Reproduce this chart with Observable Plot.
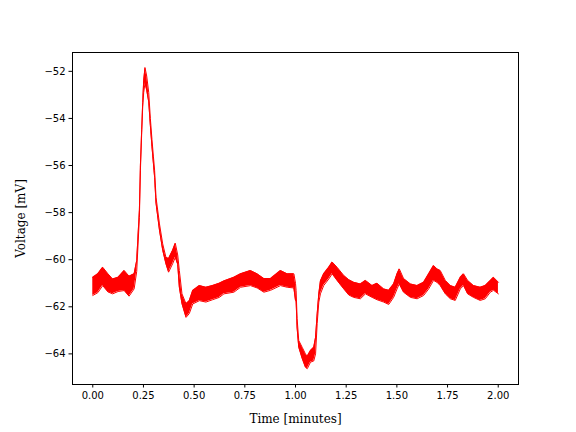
<!DOCTYPE html>
<html><head><meta charset="utf-8">
<script src="https://cdn.jsdelivr.net/npm/d3@7"></script>
<script src="https://cdn.jsdelivr.net/npm/@observablehq/plot@0.6"></script>
<style>
body{margin:0;background:#fff}
g[aria-label="x-axis label"] text, g[aria-label="y-axis label"] text {font-family:"DejaVu Serif" !important; font-size:12px !important}
</style></head><body><div id="chart"></div><script>
// Time in minutes, with the upper and lower envelope of the noisy voltage trace (mV)
const timeMin = [0.000,0.025,0.049,0.075,0.098,0.125,0.155,0.179,0.204,0.2167,0.230,0.235,0.2414,0.2463,0.2512,0.2576,0.266,0.276,0.284,0.292,0.299,0.305,0.312,0.329,0.345,0.361,0.374,0.394,0.407,0.419,0.427,0.440,0.460,0.476,0.493,0.526,0.558,0.591,0.624,0.647,0.696,0.729,0.778,0.811,0.844,0.877,0.926,0.959,0.992,1.000,1.003,1.008,1.016,1.033,1.049,1.058,1.074,1.090,1.099,1.107,1.115,1.123,1.139,1.164,1.181,1.205,1.238,1.263,1.287,1.320,1.345,1.378,1.402,1.435,1.460,1.484,1.501,1.512,1.533,1.567,1.600,1.632,1.657,1.681,1.698,1.714,1.739,1.764,1.788,1.813,1.829,1.849,1.878,1.911,1.936,1.961,1.977,2.001];
const vHigh = [-60.75,-60.6,-60.32,-60.6,-60.82,-60.75,-60.46,-60.7,-60.6,-60.04,-57.9,-56.0,-54.46,-53.33,-52.4,-51.84,-52.2,-52.9,-54.0,-54.9,-55.6,-56.2,-57.35,-58.48,-59.33,-59.9,-59.95,-59.6,-59.3,-59.8,-60.46,-61.45,-61.87,-61.74,-61.31,-61.1,-61.17,-61.1,-61.0,-60.9,-60.75,-60.6,-60.46,-60.6,-60.8,-60.8,-60.46,-60.6,-60.6,-61.0,-61.3,-62.5,-63.43,-63.72,-64.0,-64.1,-63.86,-63.72,-63.3,-62.3,-61.45,-60.9,-60.6,-60.32,-60.1,-60.32,-60.67,-60.85,-60.96,-61.03,-60.88,-61.1,-61.0,-61.24,-61.3,-61.03,-60.6,-60.39,-60.8,-61.03,-61.1,-60.96,-60.6,-60.25,-60.39,-60.46,-60.88,-61.1,-61.17,-60.75,-60.6,-60.88,-61.1,-61.17,-61.1,-60.88,-60.75,-60.96];
const vLow = [-61.52,-61.4,-61.1,-61.37,-61.45,-61.35,-61.31,-61.55,-61.24,-60.5,-58.2,-56.2,-54.6,-53.5,-52.9,-52.5,-52.8,-53.3,-54.3,-55.2,-55.9,-56.5,-57.6,-58.75,-59.6,-60.18,-60.53,-60.17,-59.9,-60.2,-61.17,-61.87,-62.45,-62.29,-61.88,-61.74,-61.8,-61.7,-61.6,-61.45,-61.38,-61.17,-61.1,-61.2,-61.38,-61.3,-61.1,-61.17,-61.2,-61.74,-61.74,-62.9,-63.72,-64.2,-64.57,-64.63,-64.35,-64.3,-64.0,-62.7,-61.8,-61.45,-61.1,-60.82,-60.6,-60.88,-61.24,-61.5,-61.6,-61.66,-61.45,-61.6,-61.7,-61.8,-61.9,-61.6,-61.24,-61.03,-61.38,-61.6,-61.66,-61.52,-61.24,-60.88,-60.96,-61.1,-61.45,-61.66,-61.73,-61.24,-61.1,-61.45,-61.6,-61.73,-61.66,-61.38,-61.3,-61.45];
const xTicks = [0, 0.25, 0.5, 0.75, 1.0, 1.25, 1.5, 1.75, 2.0];
const yTicks = [-64, -62, -60, -58, -56, -54, -52];

const chart = Plot.plot({
  width: 576, height: 432,
  marginLeft: 72, marginRight: 58, marginTop: 52, marginBottom: 48,
  style: {fontFamily: "DejaVu Sans", fontSize: "10px", background: "white", color: "black"},
  x: {domain: [-0.1, 2.1], ticks: xTicks, tickFormat: d3.format(".2f"), tickSize: 3.5, tickPadding: 3.5,
      label: "Time [minutes]", labelAnchor: "center", labelOffset: 38, labelArrow: "none"},
  y: {domain: [-65.3, -51.2], ticks: yTicks, tickFormat: d3.format("d"), tickSize: 3.5, tickPadding: 3.5,
      label: "Voltage [mV]", labelAnchor: "center", labelOffset: 56, labelArrow: "none"},
  marks: [
    Plot.areaY(timeMin, {x: timeMin, y1: vLow, y2: vHigh, fill: "#ff0000", curve: "linear"}),
    Plot.line(timeMin, {x: timeMin, y: vHigh, stroke: "#ff0000", strokeWidth: 1}),
    Plot.line(timeMin, {x: timeMin, y: vLow, stroke: "#ff0000", strokeWidth: 1}),
    Plot.frame({stroke: "black", strokeWidth: 1})
  ]
});
document.getElementById("chart").appendChild(chart);
</script></body></html>
